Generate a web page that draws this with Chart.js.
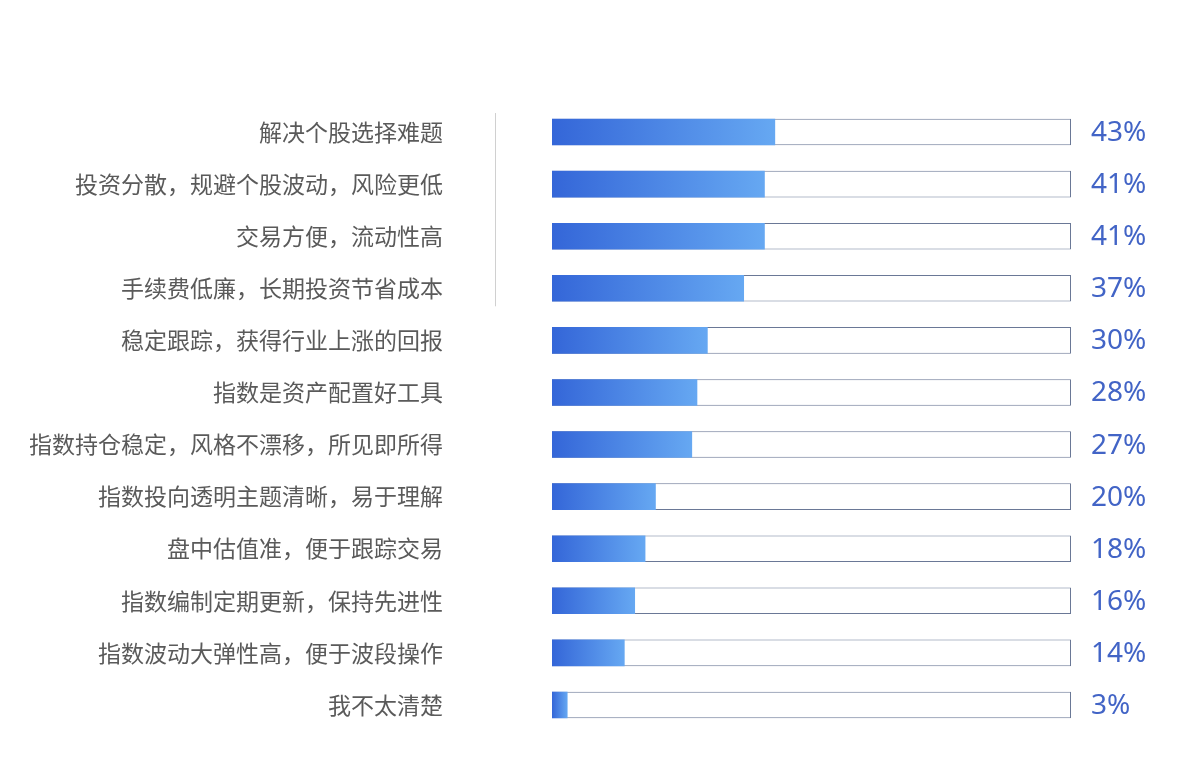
<!DOCTYPE html>
<html>
<head>
<meta charset="utf-8">
<script src="https://cdn.jsdelivr.net/npm/chart.js@4/dist/chart.umd.min.js"></script>
<style>
  html, body { margin: 0; padding: 0; background: #ffffff; }
  #wrap { width: 1196px; height: 760px; position: relative; }
</style>
</head>
<body>
<div id="wrap"><canvas id="c" width="1196" height="760"></canvas></div>
<script>
const categories = [
  "解决个股选择难题",
  "投资分散，规避个股波动，风险更低",
  "交易方便，流动性高",
  "手续费低廉，长期投资节省成本",
  "稳定跟踪，获得行业上涨的回报",
  "指数是资产配置好工具",
  "指数持仓稳定，风格不漂移，所见即所得",
  "指数投向透明主题清晰，易于理解",
  "盘中估值准，便于跟踪交易",
  "指数编制定期更新，保持先进性",
  "指数波动大弹性高，便于波段操作",
  "我不太清楚"
];
const values = [43, 41, 41, 37, 30, 28, 27, 20, 18, 16, 14, 3];
const trackValues = [100, 100, 100, 100, 100, 100, 100, 100, 100, 100, 100, 100];
const valueLabels = ["43%", "41%", "41%", "37%", "30%", "28%", "27%", "20%", "18%", "16%", "14%", "3%"];

function barGradient(context) {
  const chart = context.chart;
  const { ctx, chartArea, scales } = chart;
  if (!chartArea || !scales.x) return '#4a80e4';
  const v = context.raw;
  const x0 = scales.x.getPixelForValue(0);
  const x1 = scales.x.getPixelForValue(v);
  const g = ctx.createLinearGradient(x0, 0, Math.max(x1, x0 + 1), 0);
  g.addColorStop(0, '#3466d8');
  g.addColorStop(1, '#66a8f2');
  return g;
}

const extras = {
  id: 'extras',
  afterDatasetsDraw(chart) {
    const { ctx, chartArea, scales } = chart;
    const y = scales.y;
    ctx.save();
    // value labels
    ctx.font = '28px "Noto Sans", "Liberation Sans", sans-serif';
    ctx.fillStyle = '#4264c6';
    ctx.textAlign = 'left';
    ctx.textBaseline = 'middle';
    valueLabels.forEach((t, i) => {
      ctx.fillText(t, chartArea.right + 20, y.getPixelForValue(i) + 1);
    });
    // thin decorative divider
    ctx.strokeStyle = '#d0d0d0';
    ctx.lineWidth = 1;
    ctx.beginPath();
    const lx = Math.round(chartArea.left - 57) + 0.5;
    ctx.moveTo(lx, y.getPixelForValue(0) - 19);
    ctx.lineTo(lx, y.getPixelForValue(3) + 18);
    ctx.stroke();
    ctx.restore();
  }
};

new Chart(document.getElementById('c'), {
  type: 'bar',
  data: {
    labels: categories,
    datasets: [
      {
        label: 'value',
        data: values,
        backgroundColor: barGradient,
        borderWidth: 0,
        order: 1,
        grouped: false,
        categoryPercentage: 1,
        barPercentage: 0.51,
      },
      {
        label: 'track',
        data: trackValues,
        backgroundColor: '#ffffff',
        borderColor: '#6a7896',
        borderWidth: 1,
        borderSkipped: false,
        order: 2,
        grouped: false,
        categoryPercentage: 1,
        barPercentage: 0.51,
      }
    ]
  },
  plugins: [extras],
  options: {
    indexAxis: 'y',
    responsive: false,
    animation: false,
    devicePixelRatio: 1,
    layout: { padding: { left: 30, right: 125, top: 106, bottom: 29 } },
    plugins: {
      legend: { display: false },
      tooltip: { enabled: false },
      title: { display: false }
    },
    scales: {
      x: {
        display: false,
        min: 0,
        max: 100,
      },
      y: {
        grid: { display: false, drawTicks: false },
        border: { display: false },
        ticks: {
          color: '#5a5a5a',
          padding: 109,
          font: { family: '"Noto Sans CJK SC", sans-serif', size: 23 },
        },
        afterFit(scale) {
          scale.width = 522;
          scale.paddingTop = 0;
          scale.paddingBottom = 0;
        }
      }
    }
  }
});
</script>
</body>
</html>
